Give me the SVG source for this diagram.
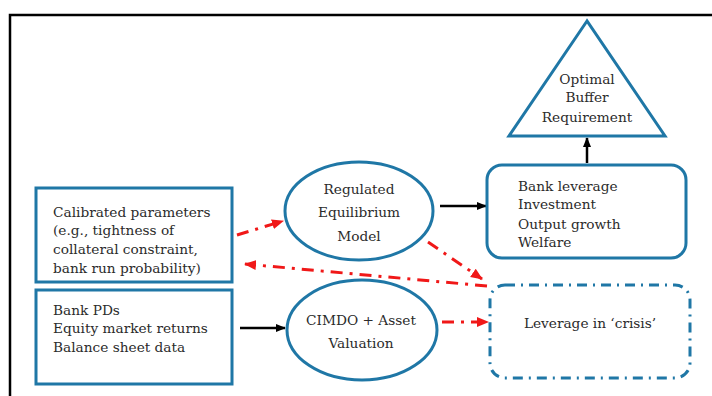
<svg xmlns="http://www.w3.org/2000/svg" width="712" height="396" viewBox="0 0 712 396">
<style>
  .frame{fill:none;stroke:#000;stroke-width:2.5}
  .node{fill:#fff;stroke:#1f77a6;stroke-width:3}
  .dnode{fill:#fff;stroke:#1f77a6;stroke-width:3;stroke-dasharray:10 6 2 6}
  .t{font-family:"DejaVu Serif","Liberation Serif",serif;font-size:13.7px;fill:#2b2b2b}
  .c{text-anchor:middle}
  .blk{stroke:#000;stroke-width:2.5;fill:none}
  .red{stroke:#f01818;stroke-width:3;fill:none;stroke-dasharray:12 7 3 7}
</style>
<defs>
  <marker id="ab" markerWidth="10" markerHeight="10" refX="9" refY="5" orient="auto" markerUnits="userSpaceOnUse">
    <path d="M0,1 L10,5 L0,9 z" fill="#000"/>
  </marker>
  <marker id="ar" markerWidth="12" markerHeight="12" refX="11" refY="6" orient="auto" markerUnits="userSpaceOnUse">
    <path d="M0,1 L12,6 L0,11 z" fill="#f01818"/>
  </marker>
</defs>
<rect width="712" height="396" fill="#fff"/>
<path class="frame" d="M10,400 L10,15 L716,15"/>

<g id="connectors">
  <line class="blk" x1="440" y1="206" x2="486" y2="206" marker-end="url(#ab)"/>
  <line class="blk" x1="240" y1="328" x2="285" y2="328" marker-end="url(#ab)"/>
  <line class="blk" x1="587" y1="163" x2="587" y2="138" marker-end="url(#ab)"/>
  <line class="red" x1="237" y1="235" x2="283" y2="221" marker-end="url(#ar)"/>
  <line class="red" x1="428" y1="242" x2="482" y2="279" marker-end="url(#ar)"/>
  <line class="red" x1="487" y1="286" x2="245" y2="264" marker-end="url(#ar)"/>
  <line class="red" x1="442" y1="322" x2="488" y2="322" marker-end="url(#ar)"/>
</g>

<g id="calibrated">
  <rect class="node" x="36" y="188" width="196" height="94"/>
  <text class="t" x="53" y="217">Calibrated parameters</text>
  <text class="t" x="53" y="235">(e.g., tightness of</text>
  <text class="t" x="53" y="254">collateral constraint,</text>
  <text class="t" x="53" y="273">bank run probability)</text>
</g>
<g id="inputs">
  <rect class="node" x="36" y="290" width="196" height="94"/>
  <text class="t" x="53" y="315">Bank PDs</text>
  <text class="t" x="53" y="333">Equity market returns</text>
  <text class="t" x="53" y="352">Balance sheet data</text>
</g>
<g id="regulated">
  <ellipse class="node" cx="359" cy="211" rx="74" ry="49"/>
  <text class="t c" x="359" y="194">Regulated</text>
  <text class="t c" x="359" y="217">Equilibrium</text>
  <text class="t c" x="359" y="241">Model</text>
</g>
<g id="cimdo">
  <ellipse class="node" cx="362" cy="330" rx="75" ry="50"/>
  <text class="t c" x="361" y="325">CIMDO + Asset</text>
  <text class="t c" x="361" y="348">Valuation</text>
</g>
<g id="outcomes">
  <rect class="node" x="487" y="165" width="199" height="93" rx="15" ry="15"/>
  <text class="t" x="518" y="191">Bank leverage</text>
  <text class="t" x="518" y="209">Investment</text>
  <text class="t" x="518" y="229">Output growth</text>
  <text class="t" x="518" y="247">Welfare</text>
</g>
<g id="crisis">
  <rect class="dnode" x="490" y="285" width="200" height="93" rx="15" ry="15"/>
  <text class="t c" x="590" y="328">Leverage in ‘crisis’</text>
</g>
<g id="buffer">
  <polygon class="node" points="587,21 509,136 665,136"/>
  <text class="t c" x="587" y="84">Optimal</text>
  <text class="t c" x="587" y="102">Buffer</text>
  <text class="t c" x="587" y="122">Requirement</text>
</g>
</svg>
